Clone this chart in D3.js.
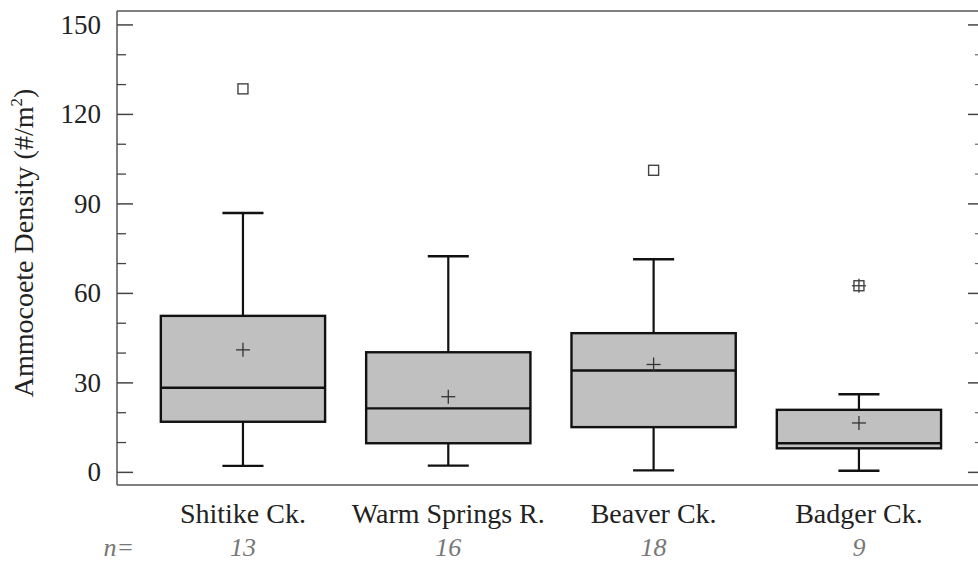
<!DOCTYPE html>
<html>
<head>
<meta charset="utf-8">
<script src="https://cdn.jsdelivr.net/npm/d3@7"></script>
<style>
  html, body { margin: 0; padding: 0; background: #fff; }
  svg { display: block; }
</style>
</head>
<body>
<svg id="chart" width="978" height="563" font-family="'Liberation Serif', 'Times New Roman', Times, serif"></svg>
<script>
// Sites and sample sizes
const sites = ["Shitike Ck.", "Warm Springs R.", "Beaver Ck.", "Badger Ck."];
const sampleSizes = [13, 16, 18, 9];

// Box-plot statistics per site (ammocoetes per m²)
const whiskerLow  = [2.0, 2.1, 0.5, 0.4];
const quartile1   = [16.8, 9.6, 15.0, 7.9];
const medians     = [28.2, 21.3, 34.0, 9.6];
const quartile3   = [52.3, 40.1, 46.5, 20.8];
const whiskerHigh = [86.8, 72.3, 71.3, 26.0];
const means       = [40.9, 25.2, 36.0, 16.4];

// Outliers: [site index, value, far-out flag]
const outlierSite  = [0, 2, 3];
const outlierValue = [128.4, 101.1, 62.4];
const outlierFar   = [false, false, true];

// Axis ticks
const majorTicks = [0, 30, 60, 90, 120, 150];
const minorTicks = [10, 20, 40, 50, 70, 80, 100, 110, 130, 140];

const FONT = "'Liberation Serif', 'Times New Roman', Times, serif";
const svg = d3.select("#chart");
const plot = { left: 117, right: 981, top: 11, bottom: 485 };

const y = d3.scaleLinear().domain([-4.4, 154.5]).range([plot.bottom, plot.top]);
const x = d3.scaleBand().domain(sites).range([140.3, 961.6]).padding(0);
const bw = x.bandwidth();
const boxW = bw * 0.8;
const capW = bw * 0.2;
const cx = s => x(s) + bw / 2;

// Frame
const frame = svg.append("g").attr("stroke", "#555").attr("stroke-width", 1.5).attr("fill", "none");
frame.append("line").attr("x1", plot.left).attr("x2", plot.right).attr("y1", plot.top).attr("y2", plot.top);
frame.append("line").attr("x1", plot.left).attr("x2", plot.right).attr("y1", plot.bottom).attr("y2", plot.bottom);
frame.append("line").attr("x1", plot.left).attr("x2", plot.left).attr("y1", plot.top).attr("y2", plot.bottom);
frame.append("line").attr("x1", plot.right).attr("x2", plot.right).attr("y1", plot.top).attr("y2", plot.bottom);

// Left axis (ticks pointing inward)
const leftAxis = svg.append("g").attr("transform", `translate(${plot.left},0)`)
  .call(d3.axisRight(y).tickValues(majorTicks).tickSize(16).tickFormat(""));
leftAxis.select(".domain").remove();
leftAxis.selectAll("line").attr("stroke", "#444").attr("stroke-width", 1.5);

const leftMinor = svg.append("g").attr("transform", `translate(${plot.left},0)`)
  .call(d3.axisRight(y).tickValues(minorTicks).tickSize(9).tickFormat(""));
leftMinor.select(".domain").remove();
leftMinor.selectAll("line").attr("stroke", "#444").attr("stroke-width", 1.3);

// Tick labels
svg.append("g").selectAll("text").data(majorTicks).join("text")
  .attr("x", 101).attr("y", d => y(d)).attr("dy", "0.35em")
  .attr("text-anchor", "end").attr("font-size", 27).attr("fill", "#222")
  .attr("font-family", FONT)
  .text(d => d);

// Right axis (ticks pointing inward)
const rightAxis = svg.append("g").attr("transform", `translate(${plot.right},0)`)
  .call(d3.axisLeft(y).tickValues(majorTicks).tickSize(13).tickFormat(""));
rightAxis.select(".domain").remove();
rightAxis.selectAll("line").attr("stroke", "#444").attr("stroke-width", 1.5);
const rightMinor = svg.append("g").attr("transform", `translate(${plot.right},0)`)
  .call(d3.axisLeft(y).tickValues(minorTicks).tickSize(6).tickFormat(""));
rightMinor.select(".domain").remove();
rightMinor.selectAll("line").attr("stroke", "#666").attr("stroke-width", 1.2);

// Y-axis title
const title = svg.append("text")
  .attr("transform", `translate(33,${(plot.top + plot.bottom) / 2 - 5}) rotate(-90)`)
  .attr("text-anchor", "middle").attr("font-size", 28).attr("fill", "#222")
  .attr("font-family", FONT);
title.append("tspan").text("Ammocoete Density (#/m");
title.append("tspan").attr("font-size", 17).attr("dy", -11).text("2");
title.append("tspan").attr("dy", 11).text(")");

// Boxes
const idx = d3.range(sites.length);
const boxes = svg.append("g");

// Whiskers
boxes.selectAll("line.whisk-lo").data(idx).join("line")
  .attr("x1", i => cx(sites[i])).attr("x2", i => cx(sites[i]))
  .attr("y1", i => y(quartile1[i])).attr("y2", i => y(whiskerLow[i]))
  .attr("stroke", "#111").attr("stroke-width", 2.2);
boxes.selectAll("line.whisk-hi").data(idx).join("line")
  .attr("x1", i => cx(sites[i])).attr("x2", i => cx(sites[i]))
  .attr("y1", i => y(quartile3[i])).attr("y2", i => y(whiskerHigh[i]))
  .attr("stroke", "#111").attr("stroke-width", 2.2);
boxes.selectAll("line.cap-lo").data(idx).join("line")
  .attr("x1", i => cx(sites[i]) - capW / 2).attr("x2", i => cx(sites[i]) + capW / 2)
  .attr("y1", i => y(whiskerLow[i])).attr("y2", i => y(whiskerLow[i]))
  .attr("stroke", "#111").attr("stroke-width", 2.4);
boxes.selectAll("line.cap-hi").data(idx).join("line")
  .attr("x1", i => cx(sites[i]) - capW / 2).attr("x2", i => cx(sites[i]) + capW / 2)
  .attr("y1", i => y(whiskerHigh[i])).attr("y2", i => y(whiskerHigh[i]))
  .attr("stroke", "#111").attr("stroke-width", 2.4);

// Interquartile boxes
boxes.selectAll("rect").data(idx).join("rect")
  .attr("x", i => cx(sites[i]) - boxW / 2).attr("width", boxW)
  .attr("y", i => y(quartile3[i])).attr("height", i => y(quartile1[i]) - y(quartile3[i]))
  .attr("fill", "#c0c0c0").attr("stroke", "#111").attr("stroke-width", 2.4);

// Medians
boxes.selectAll("line.median").data(idx).join("line")
  .attr("x1", i => cx(sites[i]) - boxW / 2).attr("x2", i => cx(sites[i]) + boxW / 2)
  .attr("y1", i => y(medians[i])).attr("y2", i => y(medians[i]))
  .attr("stroke", "#111").attr("stroke-width", 2.4);

// Means as plus signs
const plusR = 7;
const meanG = boxes.selectAll("g.mean").data(idx).join("g")
  .attr("transform", i => `translate(${cx(sites[i])},${y(means[i])})`)
  .attr("stroke", "#333").attr("stroke-width", 1.3);
meanG.append("line").attr("x1", -plusR).attr("x2", plusR);
meanG.append("line").attr("y1", -plusR).attr("y2", plusR);

// Outliers
const outG = svg.append("g").selectAll("g").data(d3.range(outlierValue.length)).join("g")
  .attr("transform", j => `translate(${cx(sites[outlierSite[j]])},${y(outlierValue[j])})`)
  .attr("stroke", "#444").attr("stroke-width", 1.4).attr("fill", "none");
outG.append("rect").attr("x", -5).attr("y", -5).attr("width", 10).attr("height", 10);
outG.filter(j => outlierFar[j]).append("line").attr("x1", -7).attr("x2", 7);
outG.filter(j => outlierFar[j]).append("line").attr("y1", -7).attr("y2", 7);

// Category labels
svg.append("g").selectAll("text").data(sites).join("text")
  .attr("x", d => cx(d)).attr("y", 523)
  .attr("text-anchor", "middle").attr("font-size", 28).attr("fill", "#222")
  .attr("font-family", FONT)
  .text(d => d);

// Sample sizes
svg.append("text").attr("x", 134).attr("y", 556).attr("text-anchor", "end")
  .attr("font-family", FONT)
  .attr("font-size", 26).attr("font-style", "italic").attr("fill", "#777").text("n=");
svg.append("g").selectAll("text").data(idx).join("text")
  .attr("x", i => cx(sites[i])).attr("y", 556)
  .attr("text-anchor", "middle").attr("font-size", 26).attr("font-style", "italic").attr("fill", "#777")
  .attr("font-family", FONT)
  .text(i => sampleSizes[i]);
</script>
</body>
</html>
